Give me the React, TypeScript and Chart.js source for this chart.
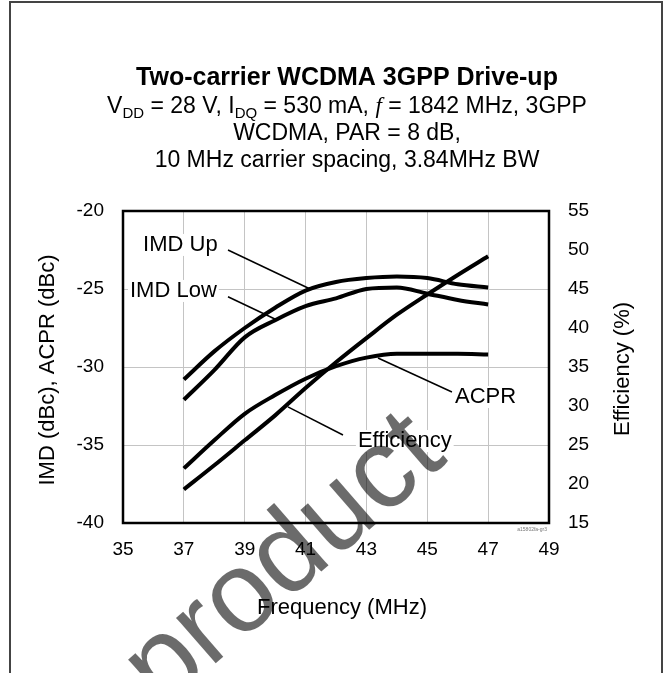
import React, { useEffect, useRef } from "react";
import { Chart, registerables } from "chart.js";

Chart.register(...registerables);

const FONT = "'Liberation Sans', Arial, Helvetica, sans-serif";

// ---- data ----
const frequencies = [37, 38, 39, 40, 41, 42, 43, 44, 45, 46, 47];
const imdUp = [-30.8, -29.0, -27.5, -26.2, -25.1, -24.55, -24.3, -24.2, -24.3, -24.7, -24.9];
const imdLow = [-32.1, -30.2, -28.1, -27.0, -26.1, -25.6, -25.0, -24.9, -25.3, -25.7, -26.0];
const acpr = [-36.5, -34.7, -33.0, -31.8, -30.75, -29.95, -29.4, -29.15, -29.15, -29.15, -29.2];
const efficiency = [19.3, 22.4, 25.6, 28.8, 32.3, 35.6, 38.7, 41.7, 44.3, 46.8, 49.2];

const xTickValues = [35, 37, 39, 41, 43, 45, 47, 49];
const leftTickValues = [-40, -35, -30, -25, -20];
const rightTickValues = [15, 20, 25, 30, 35, 40, 45, 50, 55];

const titleText = "Two-carrier WCDMA 3GPP Drive-up";
const subtitleLine1 = [
  { t: "V" },
  { t: "DD", sub: true },
  { t: " = 28 V, I" },
  { t: "DQ", sub: true },
  { t: " = 530 mA, " },
  { t: "f", italic: true },
  { t: " = 1842 MHz, 3GPP" },
];
const subtitleLine2 = "WCDMA, PAR = 8 dB,";
const subtitleLine3 = "10 MHz carrier spacing, 3.84MHz BW";
const xAxisTitle = "Frequency (MHz)";
const leftAxisTitle = "IMD (dBc), ACPR (dBc)";
const rightAxisTitle = "Efficiency (%)";
const watermarkText = "product";

// series labels: text anchor (freq, left-axis dBc) and leader line in the same units
const seriesLabels = [
  { text: "IMD Up", x: 35.66, y: -22.56, from: [38.45, -22.5], to: [41.15, -25.0] },
  { text: "IMD Low", x: 35.23, y: -25.51, from: [38.45, -25.5], to: [40.06, -26.99] },
  { text: "ACPR", x: 45.91, y: -32.31, from: [45.81, -31.6], to: [43.38, -29.42] },
  { text: "Efficiency", x: 42.72, y: -35.13, from: [42.23, -34.36], to: [40.42, -32.56] },
];

const toPoints = (ys: number[]) => frequencies.map((x, i) => ({ x, y: ys[i] }));

function drawRich(ctx: CanvasRenderingContext2D, segs: any[], cx: number, baseline: number, size: number) {
  const fontFor = (s: any) =>
    s.italic
      ? `italic ${size}px 'Liberation Serif', 'Times New Roman', serif`
      : `${s.sub ? Math.round(size * 0.65) : size}px ${FONT}`;
  let total = 0;
  for (const s of segs) {
    ctx.font = fontFor(s);
    total += ctx.measureText(s.t).width;
  }
  let x = cx - total / 2;
  ctx.textAlign = "left";
  ctx.textBaseline = "alphabetic";
  for (const s of segs) {
    ctx.font = fontFor(s);
    ctx.fillText(s.t, x, baseline + (s.sub ? size * 0.22 : 0));
    x += ctx.measureText(s.t).width;
  }
}

const decorPlugin = {
  id: "decor",
  beforeDraw(chart: any) {
    const { ctx, width, height } = chart;
    ctx.save();
    ctx.fillStyle = "#ffffff";
    ctx.fillRect(0, 0, width, height);
    ctx.restore();
  },
  afterDatasetsDraw(chart: any) {
    const { ctx, chartArea: a, scales } = chart;
    const px = (v: number) => scales.x.getPixelForValue(v);
    const py = (v: number) => scales.y.getPixelForValue(v);
    ctx.save();
    // plot border
    ctx.strokeStyle = "#000";
    ctx.lineWidth = 2.5;
    ctx.strokeRect(a.left, a.top, a.right - a.left, a.bottom - a.top);

    // series labels
    ctx.font = `22px ${FONT}`;
    ctx.textAlign = "left";
    ctx.textBaseline = "alphabetic";
    for (const l of seriesLabels) {
      const tx = px(l.x);
      const ty = py(l.y);
      const w = ctx.measureText(l.text).width;
      ctx.fillStyle = "#fff";
      ctx.fillRect(tx - 2, ty - 17, w + 4, 22);
      ctx.fillStyle = "#000";
      ctx.fillText(l.text, tx, ty);
      ctx.beginPath();
      ctx.lineWidth = 1.5;
      ctx.strokeStyle = "#000";
      ctx.moveTo(px(l.from[0]), py(l.from[1]));
      ctx.lineTo(px(l.to[0]), py(l.to[1]));
      ctx.stroke();
    }
    ctx.restore();
  },
  afterDraw(chart: any) {
    const { ctx, chartArea: a } = chart;
    ctx.save();
    // outer frame
    ctx.strokeStyle = "#444";
    ctx.lineWidth = 2;
    ctx.strokeRect(10, 2, 652, 720);

    ctx.fillStyle = "#000";
    // title
    ctx.font = `bold 25px ${FONT}`;
    ctx.textAlign = "center";
    ctx.textBaseline = "alphabetic";
    const cx = 347;
    ctx.fillText(titleText, cx, 85);
    drawRich(ctx, subtitleLine1, cx, 113, 23);
    ctx.font = `23px ${FONT}`;
    ctx.textAlign = "center";
    ctx.fillText(subtitleLine2, cx, 140);
    ctx.fillText(subtitleLine3, cx, 167);

    // axis titles
    ctx.font = `22px ${FONT}`;
    ctx.textAlign = "center";
    ctx.fillText(xAxisTitle, (a.left + a.right) / 2 + 6, 614);
    const midY = (a.top + a.bottom) / 2;
    ctx.save();
    ctx.translate(54, midY + 3);
    ctx.rotate(-Math.PI / 2);
    ctx.fillText(leftAxisTitle, 0, 0);
    ctx.restore();
    ctx.save();
    ctx.translate(629, midY + 2);
    ctx.rotate(-Math.PI / 2);
    ctx.fillText(rightAxisTitle, 0, 0);
    ctx.restore();

    // tiny figure code
    ctx.font = `5px ${FONT}`;
    ctx.fillStyle = "#777";
    ctx.textAlign = "right";
    ctx.fillText("a15802fa-gr3", a.right - 2, a.bottom + 8);

    // watermark
    ctx.save();
    ctx.translate(162, 710);
    ctx.rotate(-41 * Math.PI / 180);
    ctx.font = `114px ${FONT}`;
    ctx.fillStyle = "rgba(0,0,0,0.58)";
    ctx.textAlign = "left";
    ctx.fillText(watermarkText, 0, 0);
    ctx.restore();

    ctx.restore();
  },
};

export default function App() {
  const ref = useRef<HTMLCanvasElement | null>(null);
  useEffect(() => {
    const canvas = ref.current;
    if (!canvas) return;
    const line = (label: string, ys: number[], axis: string) => ({
      label,
      data: toPoints(ys),
      yAxisID: axis,
      borderColor: "#000",
      backgroundColor: "#000",
      borderWidth: 4,
      pointRadius: 0,
      fill: false,
      cubicInterpolationMode: "monotone" as const,
      borderCapStyle: "butt" as const,
    });
    const tickFont = { family: FONT, size: 19 };
    const chart = new Chart(canvas, {
      type: "line",
      data: {
        datasets: [
          line("IMD Up", imdUp, "y"),
          line("IMD Low", imdLow, "y"),
          line("ACPR", acpr, "y"),
          line("Efficiency", efficiency, "y1"),
        ],
      },
      options: {
        responsive: false,
        animation: false,
        devicePixelRatio: 1,
        layout: { padding: { top: 211, left: 0, right: 0, bottom: 0 } },
        plugins: { legend: { display: false }, tooltip: { enabled: false }, title: { display: false } },
        scales: {
          x: {
            type: "linear",
            min: 35,
            max: 49,
            afterBuildTicks: (s: any) => { s.ticks = xTickValues.map((v) => ({ value: v })); },
            afterFit: (s: any) => { s.height = 150; },
            ticks: { font: tickFont, color: "#000", padding: 15, maxRotation: 0, autoSkip: false },
            grid: { color: "#c4c4c4", lineWidth: 1, drawTicks: false },
            border: { display: false },
          },
          y: {
            type: "linear",
            position: "left",
            min: -40,
            max: -20,
            afterBuildTicks: (s: any) => { s.ticks = leftTickValues.map((v) => ({ value: v })); },
            afterFit: (s: any) => { s.width = 123; },
            ticks: { font: tickFont, color: "#000", padding: 19 },
            grid: { color: "#c4c4c4", lineWidth: 1, drawTicks: false },
            border: { display: false },
          },
          y1: {
            type: "linear",
            position: "right",
            min: 15,
            max: 55,
            afterBuildTicks: (s: any) => { s.ticks = rightTickValues.map((v) => ({ value: v })); },
            afterFit: (s: any) => { s.width = 116; },
            ticks: { font: tickFont, color: "#000", padding: 19 },
            grid: { display: false, drawTicks: false },
            border: { display: false },
          },
        },
      },
      plugins: [decorPlugin],
    });
    return () => chart.destroy();
  }, []);

  return (
    <div style={{ position: "absolute", left: 0, top: 0, width: 665, height: 673, background: "#fff" }}>
      <canvas ref={ref} width={665} height={673} style={{ width: 665, height: 673, display: "block" }} />
    </div>
  );
}
